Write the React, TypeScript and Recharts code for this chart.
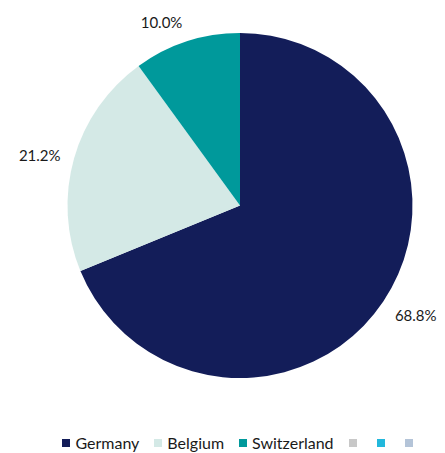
import React from 'react';
import { PieChart, Pie, Cell, Legend } from 'recharts';

const countries = ['Germany', 'Belgium', 'Switzerland'];
const shares = [68.8, 21.2, 10.0];
const sliceColors = ['#131d59', '#d4e9e6', '#00999b'];
const legendNames = ['Germany', 'Belgium', 'Switzerland', '', '', ''];
const legendColors = ['#131d59', '#d4e9e6', '#00999b', '#c8c8c8', '#22b8dc', '#b4c4d8'];

const data = countries.map((name, i) => ({ name, value: shares[i] }));

const FONT = 'Lato, "Open Sans", sans-serif';

const renderLabel = (props: any) => {
  const { cx, cy, midAngle, outerRadius, value } = props;
  if (!value) return null;
  const RAD = Math.PI / 180;
  const r = outerRadius + 14;
  const c = Math.cos(-midAngle * RAD);
  const s = Math.sin(-midAngle * RAD);
  const x = cx + r * c;
  const y = cy + r * s;
  const anchor = Math.abs(c) < 0.1 ? 'middle' : c > 0 ? 'start' : 'end';
  const baseline = s < -0.3 ? 'auto' : s > 0.3 ? 'hanging' : 'central';
  return (
    <text x={x} y={y} textAnchor={anchor} dominantBaseline={baseline} fill="#1a1a1a" fontSize={15} fontFamily={FONT}>
      {`${Number(value).toFixed(1)}%`}
    </text>
  );
};

const renderLegend = () => (
  <div style={{ display: 'flex', justifyContent: 'center', gap: 15, fontFamily: FONT, fontSize: 16, color: '#1a1a1a' }}>
    {legendNames.map((n, i) => (
      <div key={i} style={{ display: 'flex', alignItems: 'center' }}>
        <span style={{ display: 'inline-block', width: 8, height: 8, background: legendColors[i], marginRight: 5 }} />
        <span>{n}</span>
      </div>
    ))}
  </div>
);

export default function App() {
  return (
    <div style={{ position: 'absolute', left: 0, top: 0, background: '#fff' }}>
      <PieChart width={445} height={453} margin={{ top: 0, right: 0, bottom: 0, left: 0 }}>
        <Pie
          data={data}
          dataKey="value"
          nameKey="name"
          cx={240}
          cy={205.5}
          outerRadius={172.5}
          startAngle={90}
          endAngle={-270}
          stroke="none"
          label={renderLabel}
          labelLine={false}
          isAnimationActive={false}
        >
          {data.map((d, i) => (
            <Cell key={d.name} fill={sliceColors[i]} />
          ))}
        </Pie>
        <Legend
          content={renderLegend}
          wrapperStyle={{ position: 'absolute', left: 0, top: 433, width: 480 }}
        />
      </PieChart>
    </div>
  );
}
